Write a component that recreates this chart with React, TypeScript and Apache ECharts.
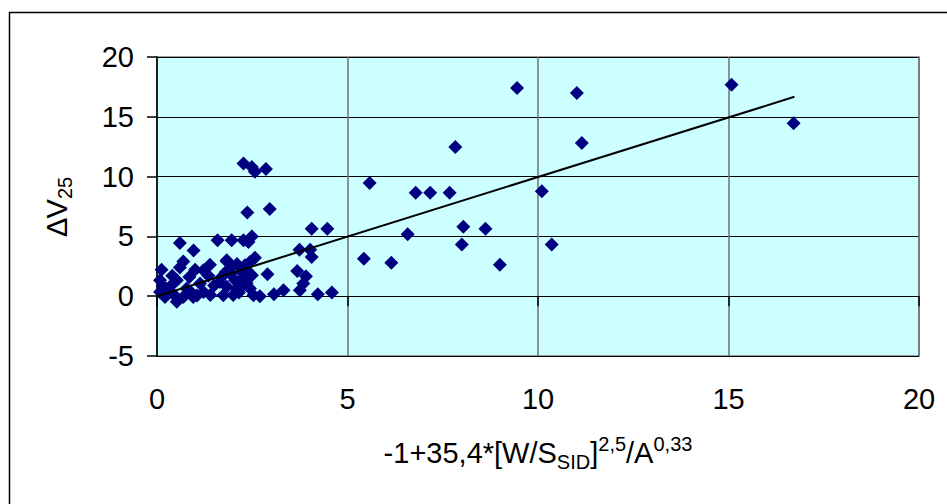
import React, { useEffect, useRef } from "react";
import * as echarts from "echarts";

const xValues = [
  9.45, 11.02, 15.08, 16.71, 11.15, 7.83, 10.1, 5.58, 6.79, 7.17, 7.68, 8.04, 8.62, 6.58, 8.0, 10.36, 5.43, 6.15, 9.0,
  2.27, 2.49, 2.57, 2.86, 2.37, 2.96, 4.06, 4.47, 0.6, 1.59, 1.96, 2.27, 2.49, 2.4, 0.96, 3.74, 4.02, 4.06, 2.57, 2.44,
  2.31, 0.69, 0.6, 0.12, 3.68, 3.91, 2.9, 2.49, 3.84, 3.75, 3.07, 3.32, 4.22, 4.59, 2.7, 2.53, 2.44, 2.22, 2.25, 1.83,
  0.08, 0.08, 0.21, 1.0, 1.39, 1.22, 1.83, 1.96, 0.52, 0.34, 0.78, 1.13, 0.52, 0.69, 0.95, 1.22, 1.65, 1.74, 1.83, 2.05,
  2.09, 1.92, 2.22, 0.3, 0.45, 0.9, 1.05, 1.4, 1.5, 1.7, 2.0, 2.15, 1.35, 0.15, 2.35, 0.4, 0.85, 2.1, 1.8, 2.44,
];
const yValues = [
  17.4, 17.0, 17.67, 14.47, 12.8, 12.47, 8.78, 9.47, 8.64, 8.64, 8.64, 5.8, 5.64, 5.17, 4.33, 4.33, 3.14, 2.8, 2.64,
  11.1, 10.8, 10.4, 10.64, 7.0, 7.3, 5.64, 5.64, 4.44, 4.67, 4.67, 4.67, 5.0, 4.53, 3.83, 3.89, 3.89, 3.28, 3.22, 2.86,
  2.58, 2.9, 2.4, 2.22, 2.11, 1.67, 1.83, 1.75, 1.06, 0.5, 0.17, 0.5, 0.17, 0.31, 0.0, 0.08, 0.64, 0.78, 1.47, 3.0,
  1.33, 0.36, -0.06, 2.22, 2.64, 2.17, 2.92, 2.44, 1.33, 0.78, 0.64, 1.06, -0.47, -0.06, -0.06, 0.36, 1.19, 0.08, 0.78, 1.33,
  0.64, 1.89, 2.03, 0.3, 0.1, 0.3, 0.05, 0.1, 0.9, 1.6, 0.1, 0.3, 1.7, 0.9, 1.1, 1.7, 1.6, 2.7, 2.0, 1.89,
];
const trendX = [0, 16.73];
const trendY = [0, 16.67];
const xTicks = [0, 5, 10, 15, 20];
const yTicks = [-5, 0, 5, 10, 15, 20];

const FONT = "'Liberation Sans', Arial, sans-serif";

export default function App() {
  const ref = useRef<HTMLDivElement>(null);
  useEffect(() => {
    if (!ref.current) return;
    const chart = echarts.init(ref.current, undefined, { renderer: "svg" });
    const points = xValues.map((x, i) => [x, yValues[i]]);
    const trend = trendX.map((x, i) => [x, trendY[i]]);
    chart.setOption({
      animation: false,
      backgroundColor: "#ffffff",
      textStyle: { fontFamily: FONT },
      graphic: [
        {
          type: "rect",
          shape: { x: 9.5, y: 12.5, width: 2000, height: 2000 },
          style: { fill: "none", stroke: "#000", lineWidth: 1.5 },
          silent: true,
          z: -10,
        },
      ],
      grid: {
        left: 157,
        top: 57,
        right: 28,
        bottom: 148,
        show: true,
        backgroundColor: "#CCFFFF",
        borderColor: "#808080",
        borderWidth: 1.5,
      },
      xAxis: [
        {
          type: "value",
          min: xTicks[0],
          max: xTicks[xTicks.length - 1],
          interval: 5,
          position: "bottom",
          axisLine: { show: true, onZero: true, lineStyle: { color: "#000", width: 1 } },
          axisTick: { show: true, length: 10, lineStyle: { color: "#000", width: 1.5 } },
          axisLabel: { show: false },
          splitLine: { show: true, lineStyle: { color: "#707070", width: 1.5 } },
        },
        {
          type: "value",
          min: xTicks[0],
          max: xTicks[xTicks.length - 1],
          interval: 5,
          position: "bottom",
          axisLine: { show: false, onZero: false },
          axisTick: { show: false },
          splitLine: { show: false },
          axisLabel: { show: true, color: "#000", fontSize: 29, fontFamily: FONT, margin: 28 },
          name: "{m|-1+35,4*[W/S}{sub|SID}{m|]}{sup|2,5}{m|/A}{sup|0,33}",
          nameLocation: "middle",
          nameGap: 78,
          nameTextStyle: {
            color: "#000",
            fontFamily: FONT,
            rich: {
              m: { fontSize: 29, fontFamily: FONT, color: "#000", lineHeight: 38 },
              sub: { fontSize: 20, fontFamily: FONT, color: "#000", verticalAlign: "bottom", lineHeight: 24 },
              sup: { fontSize: 20, fontFamily: FONT, color: "#000", verticalAlign: "top", lineHeight: 24 },
            },
          },
        },
      ],
      yAxis: {
        type: "value",
        min: yTicks[0],
        max: yTicks[yTicks.length - 1],
        interval: 5,
        axisLine: { show: true, onZero: false, lineStyle: { color: "#000", width: 1.5 } },
        axisTick: { show: true, length: 10, lineStyle: { color: "#000", width: 1.5 } },
        axisLabel: { color: "#000", fontSize: 29, fontFamily: FONT, margin: 23 },
        splitLine: { show: true, lineStyle: { color: "#000", width: 1.2 } },
        name: "{m|∆V}{sub|25}",
        nameLocation: "middle",
        nameGap: 82,
        nameRotate: 90,
        nameTextStyle: {
          color: "#000",
          fontFamily: FONT,
          rich: {
            m: { fontSize: 29, fontFamily: FONT, color: "#000", lineHeight: 36 },
            sub: { fontSize: 20, fontFamily: FONT, color: "#000", verticalAlign: "bottom", lineHeight: 26 },
          },
        },
      },
      series: [
        {
          type: "scatter",
          xAxisIndex: 0,
          data: points,
          symbol: "diamond",
          symbolSize: 14,
          itemStyle: { color: "#000080", opacity: 1 },
          z: 3,
        },
        {
          type: "line",
          xAxisIndex: 0,
          data: trend,
          symbol: "none",
          lineStyle: { color: "#000", width: 2 },
          z: 4,
        },
      ],
    });
    return () => chart.dispose();
  }, []);
  return <div ref={ref} style={{ position: "fixed", left: 0, top: 0, width: 947, height: 504 }} />;
}
